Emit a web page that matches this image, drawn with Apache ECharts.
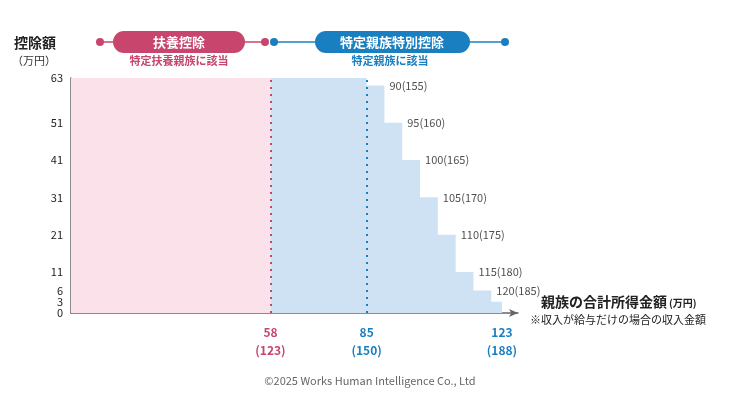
<!DOCTYPE html>
<html><head><meta charset="utf-8">
<script src="https://cdn.jsdelivr.net/npm/echarts@6/dist/echarts.min.js"></script>
<style>body{margin:0;background:#fff}#c{width:740px;height:416px}</style></head>
<body><div id="c"></div>
<script>
const yTicks = [0, 3, 6, 11, 21, 31, 41, 51, 61, 63];
const xTicks = [58, 85, 123];
const xTickSalary = ['123', '150', '188'];
const pinkArea = [[0, 63], [58, 63]];
const stepIncome = [85, 90, 95, 100, 105, 110, 115, 120, 123];
const stepDeduction = [63, 61, 51, 41, 31, 21, 11, 6, 3, 0];
const stepLabels = ['90(155)', '95(160)', '100(165)', '105(170)', '110(175)', '115(180)', '120(185)'];

const blue = [[58, 63]];
for (let i = 0; i < stepIncome.length; i++) {
  blue.push([stepIncome[i], stepDeduction[i]]);
  blue.push([stepIncome[i], stepDeduction[i + 1]]);
}
const labelPts = stepLabels.map((t, i) => ({ value: [stepIncome[i + 1], stepDeduction[i + 1]], name: t }));

const PINK = '#c8466e', BLUE = '#1a7fc1';
const font = 'Noto Sans CJK JP';
const chart = echarts.init(document.getElementById('c'));
chart.setOption({
  animation: false,
  textStyle: { fontFamily: font },
  grid: { left: 71, right: 222, top: 78, bottom: 103 },
  xAxis: {
    type: 'value', min: 2, max: 127.5,
    splitLine: { show: false },
    axisLine: { lineStyle: { color: '#666', width: 1.5 }, symbol: ['none', 'arrow'], symbolSize: [6, 9] },
    axisTick: { show: false },
    axisLabel: {
      customValues: xTicks, margin: 10, lineHeight: 18, fontSize: 12, fontWeight: 'bold',
      formatter: v => { const i = xTicks.indexOf(v); const s = i === 0 ? 'p' : 'b'; return '{' + s + '|' + v + '}\n{' + s + '|(' + xTickSalary[i] + ')}'; },
      rich: { p: { color: PINK, fontSize: 12, fontWeight: 'bold' }, b: { color: BLUE, fontSize: 12, fontWeight: 'bold' } }
    }
  },
  yAxis: {
    type: 'value', min: 0, max: 63,
    splitLine: { show: false },
    axisLine: { show: true, lineStyle: { color: '#666', width: 1.5 } },
    axisTick: { show: false },
    axisLabel: { customValues: yTicks, showMaxLabel: true, showMinLabel: true, hideOverlap: false, color: '#222', fontSize: 11, margin: 8 }
  },
  series: [
    { type: 'line', data: pinkArea, symbol: 'none', lineStyle: { width: 0 }, areaStyle: { color: '#fbe1ea', opacity: 1 },
      markLine: { silent: true, symbol: 'none', label: { show: false },
        data: [{ xAxis: 58, lineStyle: { color: PINK, type: [2, 5], width: 2 } }] } },
    { type: 'line', data: blue, symbol: 'none', lineStyle: { width: 0 }, areaStyle: { color: '#cfe2f3', opacity: 1 },
      markLine: { silent: true, symbol: 'none', label: { show: false },
        data: [{ xAxis: 85, lineStyle: { color: BLUE, type: [2, 5], width: 2 } }] } },
    { type: 'scatter', data: labelPts, symbolSize: 0,
      label: { show: true, position: 'right', distance: 5, formatter: p => p.name, color: '#222', fontSize: 11 } }
  ],
  graphic: [
    { type: 'text', left: 14, top: 36, style: { text: '控除額', font: 'bold 14px "' + font + '"', fill: '#222' } },
    { type: 'text', left: 12, top: 55, style: { text: '（万円）', font: '11px "' + font + '"', fill: '#333' } },
    { type: 'line', shape: { x1: 100, y1: 42, x2: 265, y2: 42 }, style: { stroke: PINK, lineWidth: 1.5 } },
    { type: 'circle', shape: { cx: 100, cy: 42, r: 4 }, style: { fill: PINK } },
    { type: 'circle', shape: { cx: 265, cy: 42, r: 4 }, style: { fill: PINK } },
    { type: 'rect', shape: { x: 113, y: 31, width: 132, height: 22, r: 11 }, style: { fill: PINK } },
    { type: 'text', x: 179, y: 42, style: { text: '扶養控除', align: 'center', verticalAlign: 'middle', font: 'bold 13px "' + font + '"', fill: '#fff' } },
    { type: 'text', x: 179, y: 61, style: { text: '特定扶養親族に該当', align: 'center', verticalAlign: 'middle', font: 'bold 11px "' + font + '"', fill: PINK } },
    { type: 'line', shape: { x1: 274, y1: 42, x2: 505, y2: 42 }, style: { stroke: BLUE, lineWidth: 1.5 } },
    { type: 'circle', shape: { cx: 274, cy: 42, r: 4 }, style: { fill: BLUE } },
    { type: 'circle', shape: { cx: 505, cy: 42, r: 4 }, style: { fill: BLUE } },
    { type: 'rect', shape: { x: 315, y: 31, width: 155, height: 22, r: 11 }, style: { fill: BLUE } },
    { type: 'text', x: 392, y: 42, style: { text: '特定親族特別控除', align: 'center', verticalAlign: 'middle', font: 'bold 13px "' + font + '"', fill: '#fff' } },
    { type: 'text', x: 390, y: 61, style: { text: '特定親族に該当', align: 'center', verticalAlign: 'middle', font: 'bold 11px "' + font + '"', fill: BLUE } },
    { type: 'text', left: 541, top: 295, style: { text: '親族の合計所得金額', font: 'bold 14px "' + font + '"', fill: '#222' } },
    { type: 'text', left: 669, top: 298, style: { text: '(万円)', font: 'bold 10px "' + font + '"', fill: '#222' } },
    { type: 'text', left: 530, top: 314, style: { text: '※収入が給与だけの場合の収入金額', font: '11px "' + font + '"', fill: '#222' } },
    { type: 'text', x: 370, y: 381, style: { text: '©2025 Works Human Intelligence Co., Ltd', align: 'center', verticalAlign: 'middle', font: '11px "' + font + '"', fill: '#666' } }
  ]
});
</script></body></html>
